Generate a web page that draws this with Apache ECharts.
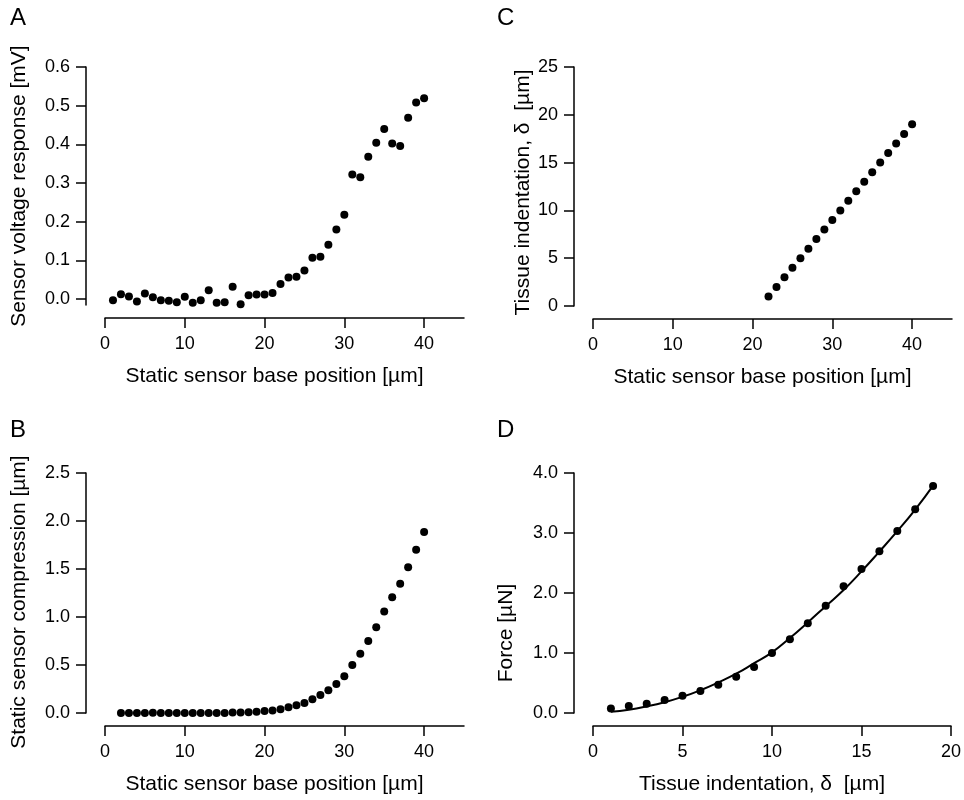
<!DOCTYPE html>
<html>
<head>
<meta charset="utf-8">
<script src="https://cdn.jsdelivr.net/npm/echarts@6/dist/echarts.min.js"></script>
<style>
  html, body { margin: 0; padding: 0; background: #fff; }
  #chart { width: 964px; height: 800px; }
</style>
</head>
<body>
<div id="chart"></div>
<script>
// panel A: sensor voltage vs base position
var posA = [1,2,3,4,5,6,7,8,9,10,11,12,13,14,15,16,17,18,19,20,21,22,23,24,25,26,27,28,29,30,31,32,33,34,35,36,37,38,39,40];
var voltA = [-0.003,0.013,0.007,-0.006,0.015,0.005,-0.003,-0.004,-0.008,0.006,-0.009,-0.003,0.023,-0.009,-0.008,0.032,
  -0.013,0.010,0.012,0.012,0.016,0.039,0.056,0.058,0.074,0.107,0.110,0.141,0.180,0.218,
  0.322,0.315,0.368,0.404,0.440,0.402,0.396,0.469,0.508,0.519];

// panel B: sensor compression vs base position
var posB = [2,3,4,5,6,7,8,9,10,11,12,13,14,15,16,17,18,19,20,21,22,23,24,25,26,27,28,29,30,31,32,33,34,35,36,37,38,39,40];
var compB = [0,0,0,0,0.002,0,0,0,0,0,0,0,0,0,0.005,0.005,0.008,0.012,0.02,0.026,0.038,0.059,0.08,0.104,0.142,0.188,
  0.236,0.302,0.382,0.5,0.618,0.75,0.892,1.056,1.205,1.347,1.517,1.701,1.885];

// panel C: tissue indentation vs base position
var posC = [22,23,24,25,26,27,28,29,30,31,32,33,34,35,36,37,38,39,40];
var indentC = [1,2,3,4,5,6,7,8,9,10,11,12,13,14,15,16,17,18,19];

// panel D: force vs indentation, with fitted curve
var indentD = [1,2,3,4,5,6,7,8,9,10,11,12,13,14,15,16,17,18,19];
var forceD = [0.075,0.117,0.156,0.217,0.289,0.367,0.472,0.606,0.767,1.0,1.228,1.494,1.789,2.111,2.4,2.694,3.033,3.394,3.783];
var fitD = [0.02,0.055,0.11,0.18,0.27,0.38,0.51,0.655,0.83,1.01,1.25,1.51,1.78,2.05,2.36,2.69,3.03,3.39,3.79];

// tick labels
var xTicks40 = [0,10,20,30,40];
var xTicksD = [0,5,10,15,20];
var yTicksA = [0,0.1,0.2,0.3,0.4,0.5,0.6];
var yTicksB = [0,0.5,1.0,1.5,2.0,2.5];
var yTicksC = [0,5,10,15,20,25];
var yTicksD = [0,1,2,3,4];

var FONT = '"Liberation Sans", Arial, sans-serif';

function zip(xs, ys) {
  return xs.map(function (x, i) { return [x, ys[i]]; });
}

function xAx(idx, max, ticks, name) {
  return {
    type: 'value', gridIndex: idx, min: 0, max: max, offset: 13,
    name: name, nameLocation: 'middle', nameGap: 48,
    nameTextStyle: { color: '#000', fontSize: 21, fontFamily: FONT, padding: [0, 20, 0, 0] },
    axisLine: { show: true, onZero: false, lineStyle: { color: '#000', width: 1.5 } },
    axisTick: { show: true, length: 10, customValues: ticks, lineStyle: { color: '#000', width: 1.5 } },
    axisLabel: { customValues: ticks, margin: 17, color: '#000', fontSize: 18, fontFamily: FONT },
    splitLine: { show: false }
  };
}

// shift moves the rotated title down (px*2 of padding)
function yAx(idx, min, max, ticks, name, gap, dec, shift) {
  return {
    type: 'value', gridIndex: idx, min: min, max: max, offset: 19,
    name: name, nameLocation: 'middle', nameGap: gap,
    nameTextStyle: { color: '#000', fontSize: 21, fontFamily: FONT, padding: [0, shift, 0, 0] },
    axisLine: { show: true, onZero: false, lineStyle: { color: '#000', width: 1.5 } },
    axisTick: { show: true, length: 10, customValues: ticks, lineStyle: { color: '#000', width: 1.5 } },
    axisLabel: {
      customValues: ticks, margin: 16, color: '#000', fontSize: 18, fontFamily: FONT,
      formatter: function (v) { return v.toFixed(dec); }
    },
    splitLine: { show: false }
  };
}

function dots(idx, data) {
  return {
    type: 'scatter', xAxisIndex: idx, yAxisIndex: idx, data: data,
    symbol: 'circle', symbolSize: 8, itemStyle: { color: '#000', opacity: 1 }, z: 3
  };
}

var chart = echarts.init(document.getElementById('chart'), null, { renderer: 'canvas' });
chart.setOption({
  backgroundColor: '#fff',
  animation: false,
  textStyle: { fontFamily: FONT },
  grid: [
    { left: 105, right: 500, top: 67, bottom: 495 },
    { left: 105, right: 500, top: 473, bottom: 87 },
    { left: 593, right: 12, top: 67, bottom: 494 },
    { left: 593, right: 12, top: 473, bottom: 87 }
  ],
  xAxis: [
    xAx(0, 45, xTicks40, 'Static sensor base position [µm]'),
    xAx(1, 45, xTicks40, 'Static sensor base position [µm]'),
    xAx(2, 45, xTicks40, 'Static sensor base position [µm]'),
    xAx(3, 20, xTicksD, 'Tissue indentation, δ  [µm]')
  ],
  yAxis: [
    yAx(0, -0.015, 0.6, yTicksA, 'Sensor voltage response [mV]', 56, 1, 0),
    yAx(1, 0, 2.5, yTicksB, 'Static sensor compression [µm]', 56, 1, 18),
    yAx(2, 0, 25, yTicksC, 'Tissue indentation, δ  [µm]', 35, 0, 12),
    yAx(3, 0, 4, yTicksD, 'Force [µN]', 57, 1, 80)
  ],
  graphic: [
    { type: 'text', left: 10, top: 6, style: { text: 'A', font: '24px ' + FONT, fill: '#000' } },
    { type: 'text', left: 10, top: 418, style: { text: 'B', font: '24px ' + FONT, fill: '#000' } },
    { type: 'text', left: 497, top: 6, style: { text: 'C', font: '24px ' + FONT, fill: '#000' } },
    { type: 'text', left: 497, top: 418, style: { text: 'D', font: '24px ' + FONT, fill: '#000' } }
  ],
  series: [
    dots(0, zip(posA, voltA)),
    dots(1, zip(posB, compB)),
    dots(2, zip(posC, indentC)),
    {
      type: 'line', xAxisIndex: 3, yAxisIndex: 3, data: zip(indentD, fitD),
      smooth: true, showSymbol: false, lineStyle: { color: '#000', width: 2 }, z: 2
    },
    dots(3, zip(indentD, forceD))
  ]
});
</script>
</body>
</html>
